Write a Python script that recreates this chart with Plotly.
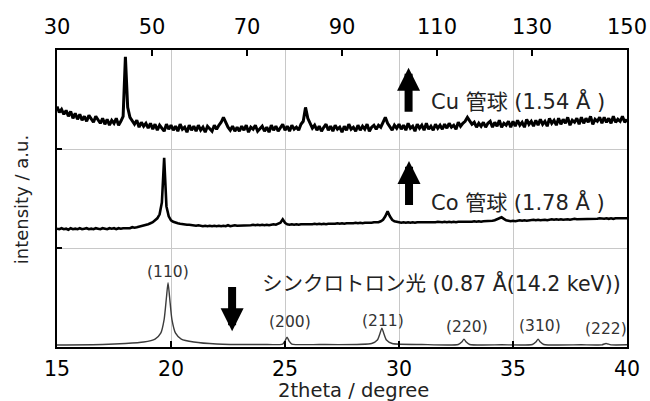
import plotly.graph_objects as go

# ---------------- data ----------------
X_START = 15.0
X_STEP = 0.1

# Cu tube pattern (x = 15.0 ... 40.0, step 0.1)
cu_intensity = [
    2.43, 2.37, 2.40, 2.35, 2.39, 2.33, 2.38, 2.31, 2.36, 2.30,
    2.35, 2.29, 2.33, 2.28, 2.34, 2.30, 2.27, 2.33, 2.29, 2.26,
    2.31, 2.25, 2.30, 2.24, 2.29, 2.26, 2.31, 2.24, 2.28, 2.33,
    2.93, 2.42, 2.32, 2.28, 2.25, 2.29, 2.22, 2.27, 2.23, 2.26,
    2.21, 2.26, 2.20, 2.25, 2.19, 2.24, 2.21, 2.18, 2.25, 2.20,
    2.24, 2.19, 2.23, 2.18, 2.25, 2.20, 2.22, 2.17, 2.24, 2.19,
    2.23, 2.18, 2.24, 2.19, 2.22, 2.17, 2.23, 2.20, 2.18, 2.24,
    2.20, 2.24, 2.27, 2.32, 2.26, 2.22, 2.19, 2.23, 2.18, 2.22,
    2.18, 2.23, 2.19, 2.24, 2.17, 2.22, 2.20, 2.24, 2.18, 2.21,
    2.23, 2.18, 2.22, 2.17, 2.24, 2.19, 2.23, 2.18, 2.21, 2.25,
    2.19, 2.23, 2.18, 2.24, 2.20, 2.22, 2.19, 2.25, 2.28, 2.42,
    2.31, 2.25, 2.21, 2.24, 2.19, 2.23, 2.18, 2.22, 2.25, 2.19,
    2.23, 2.18, 2.24, 2.20, 2.22, 2.17, 2.23, 2.19, 2.25, 2.20,
    2.22, 2.18, 2.24, 2.19, 2.23, 2.20, 2.25, 2.18, 2.22, 2.24,
    2.20, 2.24, 2.22, 2.27, 2.32, 2.26, 2.22, 2.19, 2.24, 2.21,
    2.25, 2.20, 2.24, 2.19, 2.26, 2.21, 2.23, 2.18, 2.25, 2.21,
    2.24, 2.19, 2.26, 2.20, 2.23, 2.19, 2.25, 2.21, 2.24, 2.20,
    2.25, 2.21, 2.26, 2.22, 2.24, 2.20, 2.27, 2.23, 2.26, 2.28,
    2.32, 2.28, 2.25, 2.27, 2.22, 2.26, 2.23, 2.27, 2.22, 2.26,
    2.28, 2.22, 2.27, 2.23, 2.29, 2.22, 2.26, 2.24, 2.28, 2.22,
    2.28, 2.23, 2.29, 2.24, 2.27, 2.22, 2.30, 2.25, 2.28, 2.23,
    2.29, 2.24, 2.30, 2.25, 2.28, 2.23, 2.31, 2.26, 2.29, 2.24,
    2.31, 2.25, 2.30, 2.26, 2.32, 2.24, 2.29, 2.27, 2.31, 2.25,
    2.32, 2.26, 2.31, 2.27, 2.33, 2.25, 2.30, 2.28, 2.32, 2.26,
    2.32, 2.27, 2.31, 2.26, 2.33, 2.27, 2.30, 2.28, 2.33, 2.27,
    2.30,
]

# Co tube pattern (x = 15.0 ... 40.0, step 0.1)
co_intensity = [
    1.195, 1.19, 1.20, 1.19, 1.195, 1.185, 1.20, 1.19, 1.195, 1.19,
    1.20, 1.19, 1.195, 1.20, 1.19, 1.195, 1.19, 1.20, 1.195, 1.19,
    1.20, 1.195, 1.19, 1.20, 1.195, 1.20, 1.19, 1.20, 1.195, 1.20,
    1.20, 1.205, 1.20, 1.21, 1.205, 1.21, 1.215, 1.22, 1.225, 1.23,
    1.24, 1.25, 1.26, 1.28, 1.30, 1.34, 1.46, 1.91, 1.42, 1.32,
    1.28, 1.265, 1.255, 1.25, 1.245, 1.24, 1.24, 1.235, 1.235, 1.23,
    1.23, 1.225, 1.23, 1.225, 1.22, 1.225, 1.22, 1.225, 1.22, 1.225,
    1.22, 1.225, 1.22, 1.225, 1.22, 1.23, 1.22, 1.225, 1.23, 1.225,
    1.225, 1.23, 1.225, 1.23, 1.225, 1.23, 1.235, 1.23, 1.235, 1.23,
    1.235, 1.23, 1.235, 1.23, 1.235, 1.24, 1.235, 1.245, 1.255, 1.29,
    1.255, 1.24, 1.235, 1.24, 1.235, 1.24, 1.235, 1.24, 1.24, 1.235,
    1.24, 1.235, 1.24, 1.245, 1.24, 1.245, 1.24, 1.245, 1.24, 1.245,
    1.245, 1.24, 1.245, 1.25, 1.245, 1.25, 1.245, 1.25, 1.25, 1.245,
    1.25, 1.255, 1.25, 1.255, 1.25, 1.255, 1.255, 1.25, 1.255, 1.26,
    1.26, 1.26, 1.27, 1.285, 1.32, 1.37, 1.32, 1.285, 1.27, 1.265,
    1.26, 1.255, 1.26, 1.255, 1.26, 1.255, 1.26, 1.255, 1.26, 1.26,
    1.255, 1.26, 1.255, 1.26, 1.26, 1.255, 1.26, 1.265, 1.26, 1.26,
    1.265, 1.26, 1.265, 1.26, 1.265, 1.26, 1.265, 1.265, 1.26, 1.265,
    1.265, 1.26, 1.265, 1.27, 1.265, 1.27, 1.265, 1.27, 1.27, 1.275,
    1.27, 1.275, 1.28, 1.29, 1.30, 1.31, 1.295, 1.28, 1.275, 1.27,
    1.275, 1.27, 1.275, 1.28, 1.275, 1.28, 1.275, 1.28, 1.28, 1.285,
    1.28, 1.285, 1.28, 1.285, 1.285, 1.28, 1.285, 1.29, 1.285, 1.29,
    1.285, 1.29, 1.285, 1.29, 1.29, 1.285, 1.29, 1.295, 1.29, 1.29,
    1.295, 1.29, 1.295, 1.29, 1.295, 1.295, 1.29, 1.295, 1.30, 1.295,
    1.295, 1.30, 1.295, 1.30, 1.295, 1.30, 1.30, 1.295, 1.30, 1.30,
    1.30,
]

# Synchrotron pattern (smooth, measured points)
syn_2theta = [
    15.0, 17.0, 18.0, 18.8, 19.3, 19.55, 19.7, 19.8, 19.87, 19.94, 20.04,
    20.2, 20.45, 21.0, 22.0, 24.0,
    24.9, 25.0, 25.09, 25.18, 25.3,
    26.5, 28.8, 29.05, 29.17, 29.25, 29.33, 29.45, 29.7,
    31.0, 32.6, 32.75, 32.85, 32.95, 33.1,
    34.5, 35.85, 36.0, 36.1, 36.2, 36.35,
    38.0, 38.9, 39.0, 39.08, 39.16, 39.3, 40.0,
]
syn_intensity = [
    0.020, 0.025, 0.035, 0.050, 0.080, 0.140, 0.280, 0.500, 0.650, 0.500, 0.280,
    0.140, 0.080, 0.050, 0.030, 0.025,
    0.030, 0.060, 0.100, 0.060, 0.030,
    0.025, 0.035, 0.070, 0.140, 0.190, 0.140, 0.070, 0.035,
    0.025, 0.025, 0.050, 0.080, 0.050, 0.025,
    0.022, 0.025, 0.050, 0.080, 0.050, 0.025,
    0.022, 0.022, 0.030, 0.035, 0.030, 0.022, 0.022,
]

peak_labels = ["(110)", "(200)", "(211)", "(220)", "(310)", "(222)"]
peak_2theta = [19.87, 25.22, 29.30, 32.98, 36.18, 39.08]

bottom_ticks = [15, 20, 25, 30, 35, 40]
top_ticks = [30, 50, 70, 90, 110, 130, 150]

cu_label = "Cu 管球 (1.54 Å )"
co_label = "Co 管球 (1.78 Å )"
syn_label = "シンクロトロン光 (0.87 Å(14.2 keV))"

# ---------------- figure ----------------
LATIN = "DejaVu Sans, Arial, sans-serif"
JP = "DejaVu Sans, Noto Sans CJK JP, sans-serif"

fig = go.Figure()
fig.add_trace(go.Scatter(x0=X_START, dx=X_STEP, y=cu_intensity, mode="lines",
                         line=dict(color="black", width=3), hoverinfo="skip"))
fig.add_trace(go.Scatter(x0=X_START, dx=X_STEP, y=co_intensity, mode="lines",
                         line=dict(color="black", width=2.6), hoverinfo="skip"))
fig.add_trace(go.Scatter(x=syn_2theta, y=syn_intensity, mode="lines",
                         line=dict(color="#3c3c3c", width=1.4, shape="spline", smoothing=0.6),
                         hoverinfo="skip"))
# carrier for the top axis
fig.add_trace(go.Scatter(x=top_ticks, y=[None] * len(top_ticks), xaxis="x2",
                         mode="lines", hoverinfo="skip"))

label_y = [0.76, 0.25, 0.265, 0.20, 0.212, 0.18]
for lab, px, py in zip(peak_labels, peak_2theta, label_y):
    fig.add_annotation(x=px, y=py, text=lab, showarrow=False,
                       font=dict(family=LATIN, size=15.5, color="#333"))

for txt, tx, ty, fs in [(cu_label, 31.3, 2.485, 21), (co_label, 31.3, 1.465, 21),
                        (syn_label, 23.9, 0.647, 20.5)]:
    fig.add_annotation(x=tx, y=ty, text=txt, showarrow=False, xanchor="left",
                       font=dict(family=JP, size=fs, color="#222"))

# arrows
for (tipx, tipy, tailx, taily) in [(30.42, 2.82, 30.42, 2.36), (30.44, 1.88, 30.44, 1.42),
                                    (22.68, 0.16, 22.68, 0.62)]:
    fig.add_annotation(x=tipx, y=tipy, ax=tailx, ay=taily, axref="x", ayref="y",
                       xref="x", yref="y", text="", showarrow=True,
                       arrowhead=2, arrowsize=0.575, arrowwidth=8, arrowcolor="black")

# axis titles
fig.add_annotation(xref="paper", yref="paper", x=0.521, y=-0.146, xanchor="center",
                   yanchor="middle", text="2theta / degree", showarrow=False,
                   font=dict(family=LATIN, size=19.5, color="#222"))
fig.add_annotation(xref="paper", yref="paper", x=-0.061, y=0.495, xanchor="center",
                   yanchor="middle", text="intensity / a.u.", showarrow=False, textangle=-90,
                   font=dict(family=LATIN, size=18, color="#222"))

fig.update_layout(
    width=650, height=401,
    margin=dict(l=57, r=23, t=50, b=54, autoexpand=False),
    paper_bgcolor="white", plot_bgcolor="white",
    showlegend=False,
    xaxis=dict(range=[15, 40], tickvals=bottom_ticks, ticks="inside", ticklen=6, tickwidth=2,
               tickcolor="black", showline=True, linecolor="black", linewidth=2,
               showgrid=True, gridcolor="#c8c8c8", gridwidth=1, zeroline=False,
               automargin=False, ticklabelstandoff=2,
               tickfont=dict(family=LATIN, size=20.5, color="black")),
    xaxis2=dict(range=[30, 150], tickvals=top_ticks, overlaying="x", side="top",
                ticks="inside", ticklen=6, tickwidth=2, tickcolor="black",
                showline=True, linecolor="black", linewidth=2, showgrid=False, zeroline=False,
                automargin=False, ticklabelstandoff=6,
                tickfont=dict(family=LATIN, size=21, color="black")),
    yaxis=dict(range=[0, 3], tickvals=[0, 1, 2, 3], showticklabels=False, ticks="inside",
               ticklen=5, tickwidth=2, tickcolor="black", showline=True, mirror=True,
               linecolor="black", linewidth=2, showgrid=True, gridcolor="#c8c8c8",
               zeroline=False, automargin=False),
)

fig.write_html("out.html", config={"displayModeBar": False},
               post_script="document.body.style.margin='0';")
